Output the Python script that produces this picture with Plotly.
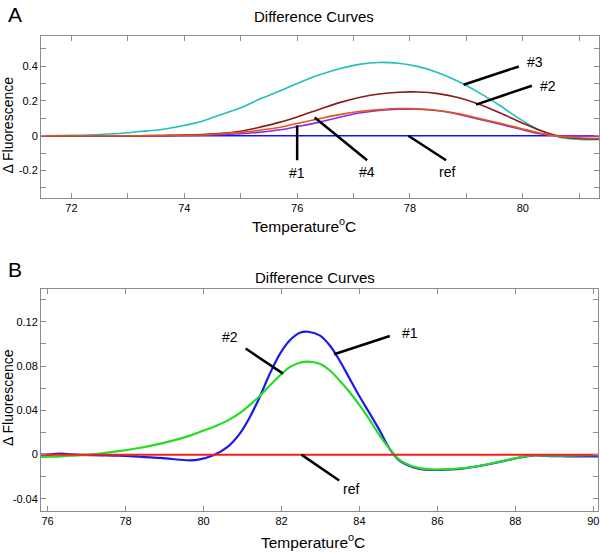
import plotly.graph_objects as go

# ---------------- Panel A data ----------------
a_temp = [71.4, 72.0, 72.5, 73.0, 73.2, 73.6, 73.9, 74.3, 74.6, 75.0, 75.3, 75.7, 76.0, 76.4,
          76.75, 77.1, 77.45, 77.8, 78.15, 78.5, 78.85, 79.2, 79.6, 79.95, 80.3, 80.65, 81.0, 81.4]
a_ref = [0.0] * len(a_temp)
a_s3 = [0.000, 0.002, 0.007, 0.017, 0.024, 0.036, 0.053, 0.082, 0.116, 0.160, 0.205, 0.258, 0.300, 0.350,
        0.385, 0.410, 0.421, 0.416, 0.397, 0.362, 0.313, 0.252, 0.172, 0.095, 0.032, -0.008, -0.021, -0.022]
a_s2 = [0.000, 0.000, 0.000, 0.000, 0.000, 0.001, 0.003, 0.006, 0.012, 0.026, 0.046, 0.078, 0.108, 0.152,
        0.190, 0.220, 0.240, 0.250, 0.251, 0.242, 0.220, 0.184, 0.130, 0.079, 0.031, -0.004, -0.016, -0.018]
a_s4 = [0.000, 0.000, 0.000, 0.000, 0.000, 0.001, 0.002, 0.004, 0.010, 0.019, 0.030, 0.049, 0.070, 0.098,
        0.121, 0.139, 0.150, 0.156, 0.154, 0.145, 0.127, 0.101, 0.071, 0.043, 0.015, -0.004, -0.012, -0.015]
a_s1 = [0.000, 0.000, 0.000, 0.000, 0.000, 0.000, 0.001, 0.003, 0.006, 0.011, 0.019, 0.034, 0.052, 0.078,
        0.106, 0.130, 0.145, 0.152, 0.152, 0.143, 0.123, 0.096, 0.066, 0.038, 0.011, 0.000, -0.001, -0.002]

a_xtickvals = [72, 74, 76, 78, 80]
a_xticktext = ["72", "74", "76", "78", "80"]
a_ytickvals = [-0.2, 0, 0.2, 0.4]
a_yticktext = ["-0.2", "0", "0.2", "0.4"]

# ---------------- Panel B data ----------------
b_temp = [75.8, 76.1, 76.35, 76.6, 76.85, 77.35, 77.85, 78.35, 78.9, 79.4, 79.65, 79.9, 80.25, 80.6,
          80.93, 81.19, 81.44, 81.70, 81.96, 82.21, 82.47, 82.68, 82.98, 83.24, 83.49, 83.75, 84.01,
          84.27, 84.52, 84.78, 85.03, 85.29, 85.55, 85.81, 86.06, 86.58, 87.09, 87.60, 88.11, 88.45,
          88.88, 89.31, 90.0, 90.15]
b_ref = [0.0] * len(b_temp)
b_s1 = [0.0000, 0.0003, 0.0010, 0.0002, -0.0003, -0.0006, -0.0010, -0.0019, -0.0030, -0.0046, -0.0052,
        -0.0043, -0.0006, 0.0065, 0.0190, 0.0340, 0.0520, 0.0730, 0.0910, 0.1030, 0.1100, 0.1110,
        0.1077, 0.0986, 0.0850, 0.0685, 0.0520, 0.0368, 0.0217, 0.0050, -0.0055, -0.0102, -0.0128,
        -0.0138, -0.0138, -0.0129, -0.0102, -0.0066, -0.0026, -0.0008, -0.0013, -0.0015, -0.0017, -0.0017]
b_s2 = [-0.0020, -0.0018, -0.0015, -0.0010, -0.0004, 0.0010, 0.0033, 0.0060, 0.0100, 0.0145, 0.0172,
        0.0205, 0.0250, 0.0305, 0.0375, 0.0450, 0.0530, 0.0624, 0.0715, 0.0790, 0.0830, 0.0840,
        0.0820, 0.0760, 0.0670, 0.0564, 0.0443, 0.0310, 0.0172, 0.0050, -0.0048, -0.0095, -0.0122,
        -0.0133, -0.0134, -0.0125, -0.0100, -0.0063, -0.0024, -0.0006, -0.0008, -0.0008, -0.0005, -0.0005]

b_xtickvals = [76, 78, 80, 82, 84, 86, 88, 90]
b_xticktext = ["76", "78", "80", "82", "84", "86", "88", "90"]
b_ytickvals = [-0.04, 0, 0.04, 0.08, 0.12]
b_yticktext = ["-0.04", "0", "0.04", "0.08", "0.12"]

FONT = "Liberation Sans, Arial, Helvetica, sans-serif"

fig = go.Figure()

def add(x, y, color, width, xa, ya):
    fig.add_trace(go.Scatter(x=x, y=y, mode="lines", xaxis=xa, yaxis=ya,
                             line=dict(color=color, width=width, shape="spline", smoothing=1.0),
                             showlegend=False, hoverinfo="skip"))

# Panel A traces
add(a_temp, a_ref, "#1010ff", 1.5, "x", "y")
add(a_temp, a_s1, "#8a2be2", 1.6, "x", "y")
add(a_temp, a_s3, "#22bfbf", 1.6, "x", "y")
add(a_temp, a_s2, "#8b1a1a", 1.6, "x", "y")
add(a_temp, a_s4, "#e0561a", 1.6, "x", "y")

# Panel B traces
add(b_temp, b_s1, "#1a1aee", 2.2, "x2", "y2")
add(b_temp, b_s2, "#22dd22", 2.2, "x2", "y2")
add(b_temp, b_ref, "#ff1a1a", 2.0, "x2", "y2")

# callout lines [x0, y0, x1, y1] and label positions
a_callouts = [
    ("#3", (78.95, 0.293, 79.93, 0.398), (80.21, 0.425)),
    ("#2", (79.17, 0.179, 80.16, 0.287), (80.45, 0.287)),
    ("#1", (76.0, 0.059, 76.0, -0.141), (76.0, -0.217)),
    ("#4", (76.31, 0.105, 77.24, -0.141), (77.24, -0.211)),
    ("ref", (77.97, 0.0, 78.64, -0.141), (78.66, -0.208)),
]
b_callouts = [
    ("#2", (81.08, 0.0958, 82.04, 0.0732), (80.67, 0.1063)),
    ("#1", (83.35, 0.0907, 84.78, 0.1072), (85.29, 0.1097)),
    ("ref", (82.51, 0.0, 83.48, -0.0233), (83.79, -0.0306)),
]

shapes = []
annotations = []
for callouts, xr, yr in ((a_callouts, "x", "y"), (b_callouts, "x2", "y2")):
    for text, (x0, y0, x1, y1), (tx, ty) in callouts:
        shapes.append(dict(type="line", xref=xr, yref=yr, x0=x0, y0=y0, x1=x1, y1=y1,
                           line=dict(color="black", width=2.5)))
        annotations.append(dict(text=text, x=tx, y=ty, xref=xr, yref=yr, showarrow=False,
                                xanchor="center", yanchor="middle",
                                font=dict(family=FONT, size=14, color="black")))

W, H, L, R = 600, 552, 41, 1
PW = W - L - R

def px(xp):
    return (xp - L) / PW

def py(yp):
    return 1 - yp / H

texts = [
    ("A", 15, 14, 21, 0),
    ("Difference Curves", 314, 16, 15, 0),
    ("Temperature<sup>o</sup>C", 304, 225, 15.5, 0),
    ("Δ Fluorescence", 8, 125.5, 14, -90),
    ("B", 15, 269, 21, 0),
    ("Difference Curves", 315, 277, 15, 0),
    ("Temperature<sup>o</sup>C", 313, 541, 15.5, 0),
    ("Δ Fluorescence", 8, 398, 14, -90),
]
for t, xx, yy, sz, ang in texts:
    annotations.append(dict(text=t, x=px(xx), y=py(yy), xref="paper", yref="paper",
                            showarrow=False, xanchor="center", yanchor="middle", textangle=ang,
                            font=dict(family=FONT, size=sz, color="black")))

axis_common = dict(showline=True, mirror="ticks", linecolor="#8c8c8c", linewidth=1,
                   ticks="inside", ticklen=5, tickcolor="#8c8c8c", showgrid=False,
                   zeroline=False, tickfont=dict(family=FONT, size=11, color="black"),
                   tickmode="array")

fig.update_layout(
    width=W, height=H, margin=dict(l=L, r=R, t=0, b=0),
    paper_bgcolor="white", plot_bgcolor="white",
    xaxis=dict(domain=[0, 1], anchor="y", range=[71.46, 81.35],
               tickvals=a_xtickvals, ticktext=a_xticktext,
               minor=dict(ticks="inside", ticklen=5, tickcolor="#8c8c8c", dtick=1, tick0=72),
               **axis_common),
    yaxis=dict(domain=[1 - 198 / H, 1 - 36 / H], anchor="x", range=[-0.358, 0.573],
               tickvals=a_ytickvals, ticktext=a_yticktext,
               minor=dict(ticks="inside", ticklen=5, tickcolor="#8c8c8c", dtick=0.1, tick0=0),
               **axis_common),
    xaxis2=dict(domain=[0, 557 / PW], anchor="y2", range=[75.83, 90.12],
                tickvals=b_xtickvals, ticktext=b_xticktext, **axis_common),
    yaxis2=dict(domain=[1 - 511 / H, 1 - 289 / H], anchor="x2", range=[-0.0509, 0.1496],
                tickvals=b_ytickvals, ticktext=b_yticktext,
                minor=dict(ticks="inside", ticklen=5, tickcolor="#8c8c8c", dtick=0.02, tick0=0),
                **axis_common),
    shapes=shapes,
    annotations=annotations,
)

fig.write_html("out.html", config={"displayModeBar": False},
               post_script="document.body.style.margin='0';document.body.style.padding='0';")
